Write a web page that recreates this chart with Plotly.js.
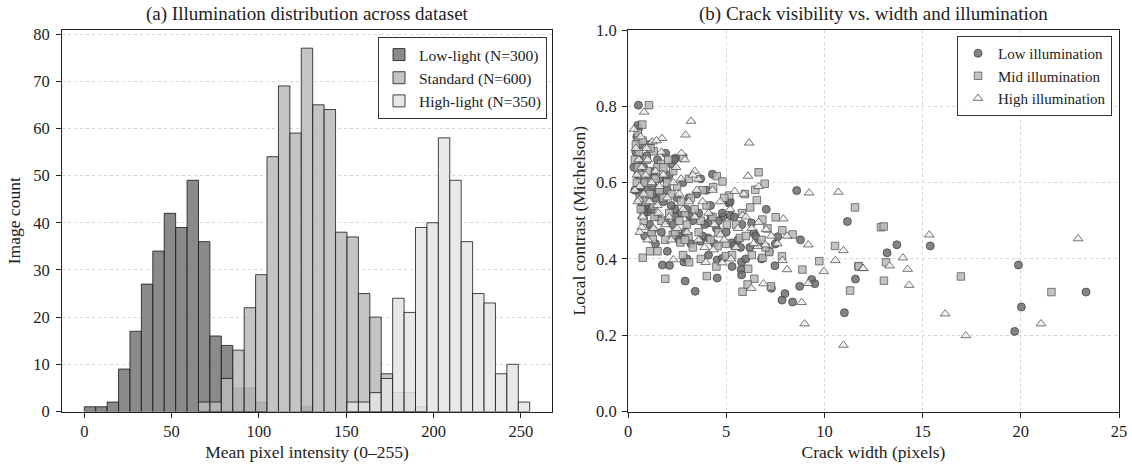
<!DOCTYPE html>
<html>
<head>
<meta charset="utf-8">
<script src="https://cdn.plot.ly/plotly-3.0.1.min.js"></script>
<style>html,body{margin:0;padding:0;background:#fff;}#chart{width:1132px;height:466px;}</style>
</head>
<body>
<div id="chart"></div>
<script>
// ---------- Panel (a): histogram counts per bin (39 bins over 0–255) ----------
const binCount = 39;
const intensityMax = 255;
const lowLightCounts = [1,1,2,9,17,27,34,42,39,49,36,16,14,5,5,2,0,0,0,1,0,0,0,0,0,0,0,0,0,0,0,0,0,0,0,0,0,0,0];
const standardCounts = [0,0,0,0,0,0,0,0,0,0,2,2,7,13,22,29,54,69,59,77,65,64,38,37,25,20,8,4,4,1,0,0,0,0,0,0,0,0,0];
const highLightCounts = [0,0,0,0,0,0,0,0,0,0,0,0,0,0,0,0,0,0,0,0,0,0,0,2,2,4,7,24,21,39,40,58,49,36,25,23,8,10,2];
const histNames = ['Low-light (N=300)','Standard (N=600)','High-light (N=350)'];
const histTicks = [0,50,100,150,200,250];

// ---------- Panel (b): crack width (px) and local contrast ----------
const lowWidth = [0.53,8.59,11.17,7.04,7.5,8.78,4.3,2.24,1.92,2.4,0.99,1.75,2.11,2.91,3.42,2.84,4.54,5.78,5.76,5.78,8.74,9.35,9.51,7.99,7.84,8.38,7.3,11.02,11.58,7.48,7.62,6.67,5.73,5.29,5.39,4.83,5.22,4.54,4.81,4.08,3.69,6.29,6.41,5.15,4.23,4.06,2.57,2.38,1.02,1.96,0.53,0.48,0.56,0.7,1.26,3.15,
  0.45,0.6,0.55,0.8,0.5,0.7,0.9,0.6,1.1,1.3,1.0,1.4,1.2,1.6,1.8,0.8,1.5,2.0,2.2,2.5,2.7,1.9,2.3,3.0,3.3,2.9,3.6,3.9,4.2,4.5,4.8,5.4,3.2,2.6,1.7,1.1,0.75,0.65,1.35,2.1,2.8,3.5,4.0,0.95,1.5,0.4,0.5,1.25,2.4,3.8,4.4,5.0,5.6,6.2,6.8,7.2,6.0,5.3,3.0,1.4,0.85,2.0,4.1,6.5,1.05,0.3,0.35,1.6,2.35,3.1,3.7,4.6,5.2,5.8,
  13.69,13.19,15.39,19.88,20.03,19.69,23.32];
const lowContrast = [0.803,0.579,0.498,0.530,0.439,0.450,0.622,0.647,0.677,0.664,0.523,0.384,0.383,0.342,0.315,0.392,0.350,0.392,0.372,0.358,0.328,0.346,0.335,0.309,0.292,0.287,0.323,0.259,0.347,0.382,0.458,0.441,0.430,0.442,0.435,0.511,0.513,0.397,0.402,0.455,0.446,0.494,0.468,0.546,0.511,0.494,0.461,0.531,0.546,0.609,0.741,0.648,0.585,0.546,0.477,0.511,
  0.72,0.70,0.66,0.64,0.62,0.60,0.58,0.57,0.61,0.59,0.55,0.56,0.53,0.57,0.55,0.52,0.51,0.58,0.54,0.56,0.52,0.50,0.49,0.53,0.50,0.47,0.52,0.49,0.54,0.48,0.52,0.51,0.44,0.45,0.47,0.49,0.53,0.59,0.63,0.62,0.60,0.57,0.58,0.67,0.66,0.68,0.75,0.57,0.51,0.46,0.44,0.47,0.45,0.43,0.40,0.42,0.40,0.38,0.40,0.44,0.46,0.42,0.41,0.46,0.70,0.64,0.58,0.61,0.66,0.56,0.61,0.50,0.55,0.49,
  0.437,0.416,0.434,0.384,0.274,0.210,0.313];

const midWidth = [1.07,0.73,0.51,1.31,2.81,1.68,6.65,4.52,4.81,6.96,4.34,6.48,5.95,5.15,6.56,6.22,7.52,6.84,7.86,8.38,10.54,11.56,9.74,11.73,11.31,8.88,7.28,5.83,6.43,6.09,6.12,4.01,1.9,0.75,1.12,1.26,2.67,3.11,3.71,4.98,6.85,7.84,7.19,5.7,5.03,4.56,3.08,2.28,
  0.4,0.55,0.5,0.7,0.45,0.85,0.6,1.0,1.2,1.1,1.4,1.6,1.3,1.8,2.0,2.2,2.5,2.7,2.1,1.7,2.9,3.2,3.4,3.0,3.7,4.0,4.3,3.6,2.4,1.9,1.2,0.8,0.65,0.95,1.5,2.3,3.1,0.5,0.75,1.15,2.6,4.6,5.0,5.5,6.0,6.3,4.2,3.3,2.8,1.5,5.8,6.8,7.1,0.35,0.9,1.35,2.05,3.8,4.9,5.3,4.5,7.0,1.8,2.9,
  12.88,13.02,13.14,13.03,11.75,16.95,21.56];
const midContrast = [0.803,0.752,0.716,0.682,0.665,0.649,0.627,0.617,0.603,0.597,0.588,0.581,0.570,0.566,0.554,0.535,0.509,0.503,0.475,0.464,0.434,0.535,0.394,0.381,0.317,0.372,0.328,0.314,0.348,0.333,0.374,0.355,0.348,0.403,0.420,0.452,0.443,0.391,0.400,0.407,0.403,0.407,0.418,0.455,0.490,0.433,0.459,0.463,
  0.70,0.68,0.64,0.62,0.60,0.60,0.56,0.63,0.60,0.57,0.61,0.58,0.54,0.56,0.60,0.57,0.59,0.55,0.52,0.50,0.52,0.56,0.53,0.49,0.50,0.54,0.51,0.47,0.47,0.45,0.47,0.50,0.53,0.66,0.64,0.63,0.61,0.73,0.71,0.69,0.50,0.47,0.44,0.49,0.46,0.41,0.45,0.43,0.41,0.42,0.52,0.45,0.48,0.66,0.55,0.51,0.66,0.58,0.56,0.41,0.38,0.43,0.64,0.45,
  0.483,0.485,0.391,0.343,0.380,0.354,0.313];

const highWidth = [0.82,3.21,2.93,1.73,1.24,6.17,2.72,3.4,3.59,6.11,6.65,5.43,9.22,10.71,7.91,5.83,9.18,10.97,10.56,11.96,9.97,8.1,6.9,6.28,9.18,8.84,8.99,10.97,7.86,5.24,4.8,3.96,2.31,0.7,0.73,0.56,6.65,7.03,6.99,6.6,4.71,4.35,
  0.4,0.55,0.45,0.7,0.6,0.9,1.0,0.8,1.2,1.4,1.1,1.6,1.8,1.5,2.0,2.3,2.1,2.6,2.8,2.5,3.1,3.4,3.0,3.8,4.1,4.4,3.6,2.2,1.3,0.75,0.5,0.35,1.7,2.45,0.65,0.3,4.7,5.2,5.6,6.0,4.9,5.5,6.4,3.3,2.9,1.9,1.0,0.6,4.3,5.9,6.3,7.3,7.6,8.1,1.45,2.7,3.9,0.95,1.55,3.5,
  15.34,14.0,13.32,14.24,14.32,11.98,16.15,17.2,21.03,22.92];
const highContrast = [0.785,0.761,0.725,0.716,0.707,0.704,0.677,0.630,0.609,0.617,0.590,0.577,0.573,0.575,0.505,0.514,0.437,0.422,0.396,0.375,0.367,0.372,0.335,0.323,0.336,0.286,0.230,0.174,0.396,0.400,0.390,0.391,0.398,0.483,0.513,0.555,0.496,0.477,0.437,0.433,0.463,0.424,
  0.69,0.66,0.62,0.64,0.59,0.62,0.66,0.57,0.60,0.63,0.55,0.59,0.62,0.54,0.56,0.60,0.51,0.57,0.53,0.48,0.55,0.51,0.47,0.55,0.52,0.49,0.45,0.45,0.48,0.51,0.55,0.58,0.68,0.64,0.72,0.74,0.55,0.53,0.48,0.51,0.45,0.43,0.44,0.62,0.66,0.49,0.45,0.47,0.58,0.57,0.48,0.46,0.44,0.46,0.71,0.61,0.43,0.69,0.52,0.58,
  0.463,0.403,0.382,0.373,0.331,0.375,0.256,0.199,0.230,0.453];

const scatterNames = ['Low illumination','Mid illumination','High illumination'];

// ---------- build ----------
const W = 1132, H = 466;
const binW = intensityMax / binCount;
function barTrace(counts, name, fill){
  const x = [], y = [];
  counts.forEach((c,i)=>{ if(c>0){ x.push((i+0.5)*binW); y.push(c);} });
  return {type:'bar', x, y, width:binW, name, xaxis:'x', yaxis:'y', legend:'legend',
    marker:{color:fill, line:{color:'rgba(25,25,25,0.8)', width:1}}, hoverinfo:'x+y'};
}
const traces = [
  barTrace(lowLightCounts, histNames[0], 'rgba(118,118,118,0.85)'),
  barTrace(standardCounts, histNames[1], 'rgba(186,186,186,0.85)'),
  barTrace(highLightCounts, histNames[2], 'rgba(228,228,228,0.85)'),
  {type:'scatter', mode:'markers', x:lowWidth, y:lowContrast, name:scatterNames[0], xaxis:'x2', yaxis:'y2', legend:'legend2',
    marker:{symbol:'circle', size:8, color:'rgba(110,110,110,0.85)', line:{color:'rgba(60,60,60,0.9)', width:0.8}}},
  {type:'scatter', mode:'markers', x:midWidth, y:midContrast, name:scatterNames[1], xaxis:'x2', yaxis:'y2', legend:'legend2',
    marker:{symbol:'square', size:7.5, color:'rgba(185,185,185,0.85)', line:{color:'rgba(80,80,80,0.9)', width:0.8}}},
  {type:'scatter', mode:'markers', x:highWidth, y:highContrast, name:scatterNames[2], xaxis:'x2', yaxis:'y2', legend:'legend2',
    marker:{symbol:'triangle-up', size:8.5, color:'rgba(240,240,240,0.85)', line:{color:'rgba(70,70,70,0.9)', width:0.8}}}
];

const yDom = [(H-411.5)/H, (H-30)/H];
const fontFam = '"Liberation Serif", "DejaVu Serif", serif';
const axisBase = {showline:true, mirror:true, linecolor:'#222', linewidth:1, ticks:'outside', ticklen:5, tickwidth:1, tickcolor:'#222',
  zeroline:false, gridcolor:'#d6d6d6', griddash:'dot', gridwidth:1, automargin:false, tickfont:{size:16.5, color:'#222'}};

const layout = {
  width:W, height:H, margin:{l:0,r:0,t:0,b:0},
  paper_bgcolor:'#fff', plot_bgcolor:'#fff',
  font:{family:fontFam, size:16, color:'#222'},
  barmode:'overlay', bargap:0,
  xaxis:Object.assign({}, axisBase, {domain:[62/W, 552/W], range:[-12.75, 267.75], tickvals:histTicks, showgrid:false,
    title:{text:'Mean pixel intensity (0–255)', standoff:5, font:{size:17.5}}}),
  yaxis:Object.assign({}, axisBase, {domain:yDom, range:[0, 80.85], dtick:10, showgrid:true, ticklabelstandoff:3,
    title:{text:'Image count', standoff:8, font:{size:17.5}}}),
  xaxis2:Object.assign({}, axisBase, {anchor:'y2', domain:[628/W, 1119/W], range:[0, 25], dtick:5, showgrid:true,
    title:{text:'Crack width (pixels)', standoff:5, font:{size:17.5}}}),
  yaxis2:Object.assign({}, axisBase, {anchor:'x2', domain:yDom, range:[0, 1.0], tickvals:[0,0.2,0.4,0.6,0.8,1.0], tickformat:'.1f', showgrid:true, ticklabelstandoff:2,
    title:{text:'Local contrast (Michelson)', standoff:5, font:{size:17.5}}}),
  legend:{x:547/W, xanchor:'right', y:1-37/H, yanchor:'top', bgcolor:'rgba(255,255,255,0.9)', bordercolor:'#333', borderwidth:1,
    font:{size:15.5, color:'#222'}, tracegroupgap:0},
  legend2:{x:1112/W, xanchor:'right', y:1-36/H, yanchor:'top', bgcolor:'rgba(255,255,255,0.9)', bordercolor:'#333', borderwidth:1,
    font:{size:15, color:'#222'}, tracegroupgap:0},
  annotations:[
    {text:'(a) Illumination distribution across dataset', xref:'paper', yref:'paper', x:307/W, y:1-14/H, xanchor:'center', yanchor:'middle', showarrow:false, font:{size:19, color:'#222'}},
    {text:'(b) Crack visibility vs. width and illumination', xref:'paper', yref:'paper', x:873.5/W, y:1-14/H, xanchor:'center', yanchor:'middle', showarrow:false, font:{size:19, color:'#222'}}
  ]
};

Plotly.newPlot('chart', traces, layout, {displayModeBar:false, staticPlot:true});
</script>
</body>
</html>
